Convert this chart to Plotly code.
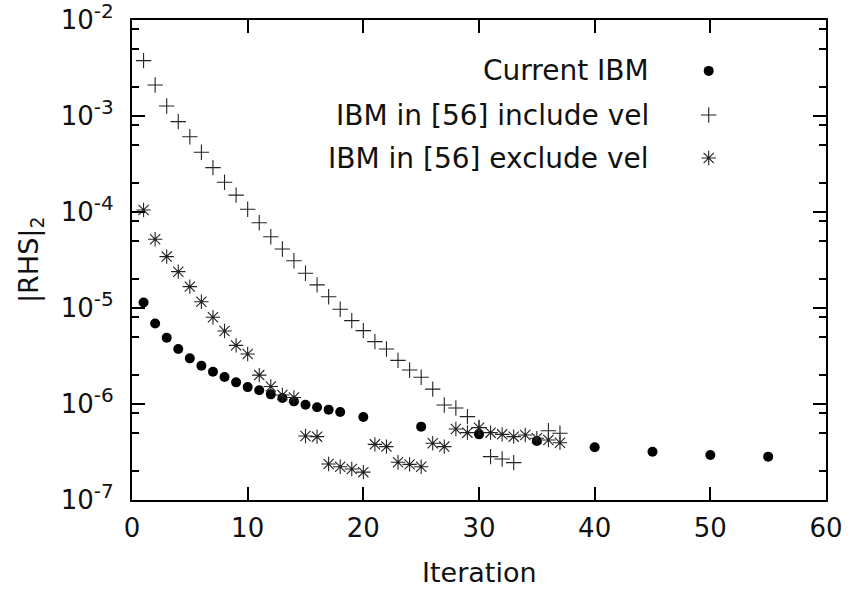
import plotly.graph_objects as go

# ---- data ----
cur_x = [1, 2, 3, 4, 5, 6, 7, 8, 9, 10, 11, 12, 13, 14, 15, 16, 17, 18, 20, 25, 30, 35, 40, 45, 50, 55]
cur_y = [1.14e-5, 6.9e-6, 4.9e-6, 3.74e-6, 2.99e-6, 2.5e-6, 2.17e-6, 1.91e-6, 1.68e-6, 1.5e-6,
         1.39e-6, 1.26e-6, 1.155e-6, 1.066e-6, 9.84e-7, 9.24e-7, 8.73e-7, 8.26e-7, 7.33e-7,
         5.81e-7, 4.83e-7, 4.12e-7, 3.54e-7, 3.18e-7, 2.94e-7, 2.83e-7]

inc_x = [1, 2, 3, 4, 5, 6, 7, 8, 9, 10, 11, 12, 13, 14, 15, 16, 17, 18, 19, 20, 21, 22, 23, 24,
         25, 26, 27, 28, 29, 30, 31, 32, 33, 36, 37]
inc_y = [3.77e-3, 2.1e-3, 1.27e-3, 8.73e-4, 6.09e-4, 4.19e-4, 2.9e-4, 2.04e-4, 1.5e-4, 1.07e-4,
         7.74e-5, 5.53e-5, 4.12e-5, 3.11e-5, 2.3e-5, 1.74e-5, 1.31e-5, 9.69e-6, 7.38e-6, 5.81e-6,
         4.46e-6, 3.74e-6, 2.85e-6, 2.26e-6, 1.9e-6, 1.43e-6, 9.77e-7, 9.1e-7, 7.38e-7, 5.7e-7,
         2.83e-7, 2.67e-7, 2.45e-7, 5.27e-7, 4.95e-7]

exc_x = [1, 2, 3, 4, 5, 6, 7, 8, 9, 10, 11, 12, 13, 14, 15, 16, 17, 18, 19, 20, 21, 22, 23, 24,
         25, 26, 27, 28, 29, 30, 31, 32, 33, 34, 35, 36, 37]
exc_y = [1.05e-4, 5.2e-5, 3.43e-5, 2.39e-5, 1.67e-5, 1.16e-5, 8.0e-6, 5.75e-6, 4.08e-6, 3.32e-6,
         2.0e-6, 1.52e-6, 1.24e-6, 1.17e-6, 4.64e-7, 4.57e-7, 2.37e-7, 2.22e-7, 2.1e-7, 1.95e-7,
         3.8e-7, 3.6e-7, 2.47e-7, 2.35e-7, 2.22e-7, 3.9e-7, 3.6e-7, 5.5e-7, 5.03e-7, 5.66e-7,
         5.03e-7, 4.83e-7, 4.57e-7, 4.75e-7, 4.4e-7, 4.22e-7, 3.95e-7]

series_names = ["Current IBM", "IBM in [56] include vel", "IBM in [56] exclude vel"]

x_ticks = [0, 10, 20, 30, 40, 50, 60]
y_ticks = [1e-7, 1e-6, 1e-5, 1e-4, 1e-3, 1e-2]
y_exponents = ["-7", "-6", "-5", "-4", "-3", "-2"]
y_minor = [m * 10.0 ** e for e in range(-7, -2) for m in (2, 5, 8)]

x_title = "Iteration"
y_title = "|RHS|<sub>2</sub>"

# ---- styles ----
FONT = "DejaVu Sans"
INK = "#111111"
TICK_SIZE = 26
TEXT_SIZE = 27
LEGEND_SIZE = 28
y_ticktext = ["10<sup><span style='font-size:20px'>%s</span></sup>" % e for e in y_exponents]

styles = [
    dict(symbol="circle", size=10, color="black", line=dict(width=0)),
    dict(symbol="cross-thin-open", size=11, color="#222222", line=dict(width=1.1, color="#222222")),
    dict(symbol="asterisk-open", size=12, color="#222222", line=dict(width=1.1, color="#222222")),
]

fig = go.Figure()
for xs, ys, name, st in zip([cur_x, inc_x, exc_x], [cur_y, inc_y, exc_y], series_names, styles):
    fig.add_trace(go.Scatter(x=xs, y=ys, mode="markers", name=name, marker=st, showlegend=False))

# legend keys on an overlay unit axis
key_x = 0.831
key_rows = [0.894, 0.802, 0.7125]
text_x = 0.748
for row, name, st in zip(key_rows, series_names, styles):
    fig.add_trace(go.Scatter(x=[key_x], y=[row], mode="markers", marker=st,
                             xaxis="x2", yaxis="y2", showlegend=False, hoverinfo="skip"))
    fig.add_annotation(x=text_x, y=row, xref="paper", yref="paper", text=name,
                       showarrow=False, xanchor="right", yanchor="middle",
                       font=dict(family=FONT, size=LEGEND_SIZE, color=INK))

# axis titles
fig.add_annotation(x=0.5, y=-0.15, xref="paper", yref="paper", text=x_title, showarrow=False,
                   xanchor="center", yanchor="middle", font=dict(family=FONT, size=TEXT_SIZE, color=INK))
fig.add_annotation(x=-0.147, y=0.5, xref="paper", yref="paper", text=y_title, showarrow=False,
                   textangle=-90, xanchor="center", yanchor="middle",
                   font=dict(family=FONT, size=TEXT_SIZE, color=INK))

axis_common = dict(showline=True, linecolor="black", linewidth=2, mirror="allticks",
                   ticks="inside", tickcolor="black", tickwidth=2, ticklen=13,
                   showgrid=False, zeroline=False, automargin=False, ticklabeloverflow="allow",
                   tickfont=dict(family=FONT, size=TICK_SIZE, color=INK))

fig.update_layout(
    width=851, height=591,
    margin=dict(l=132, r=25, t=20, b=91, autoexpand=False),
    paper_bgcolor="white", plot_bgcolor="white",
    font=dict(family=FONT, size=TEXT_SIZE, color=INK),
    xaxis=dict(range=[0, 60], tickmode="array", tickvals=x_ticks, ticklabelstandoff=4,
               **axis_common),
    yaxis=dict(type="log", range=[-7, -2], tickmode="array", tickvals=y_ticks, ticktext=y_ticktext,
               ticklabelstandoff=11,
               minor=dict(tickmode="array", tickvals=y_minor, ticks="inside", ticklen=7,
                          tickwidth=2, tickcolor="black", showgrid=False),
               **axis_common),
    xaxis2=dict(overlaying="x", range=[0, 1], visible=False, fixedrange=True),
    yaxis2=dict(overlaying="y", range=[0, 1], visible=False, fixedrange=True),
)

fig.write_html("out.html", config={"displayModeBar": False},
               post_script="document.body.style.margin='0';")
